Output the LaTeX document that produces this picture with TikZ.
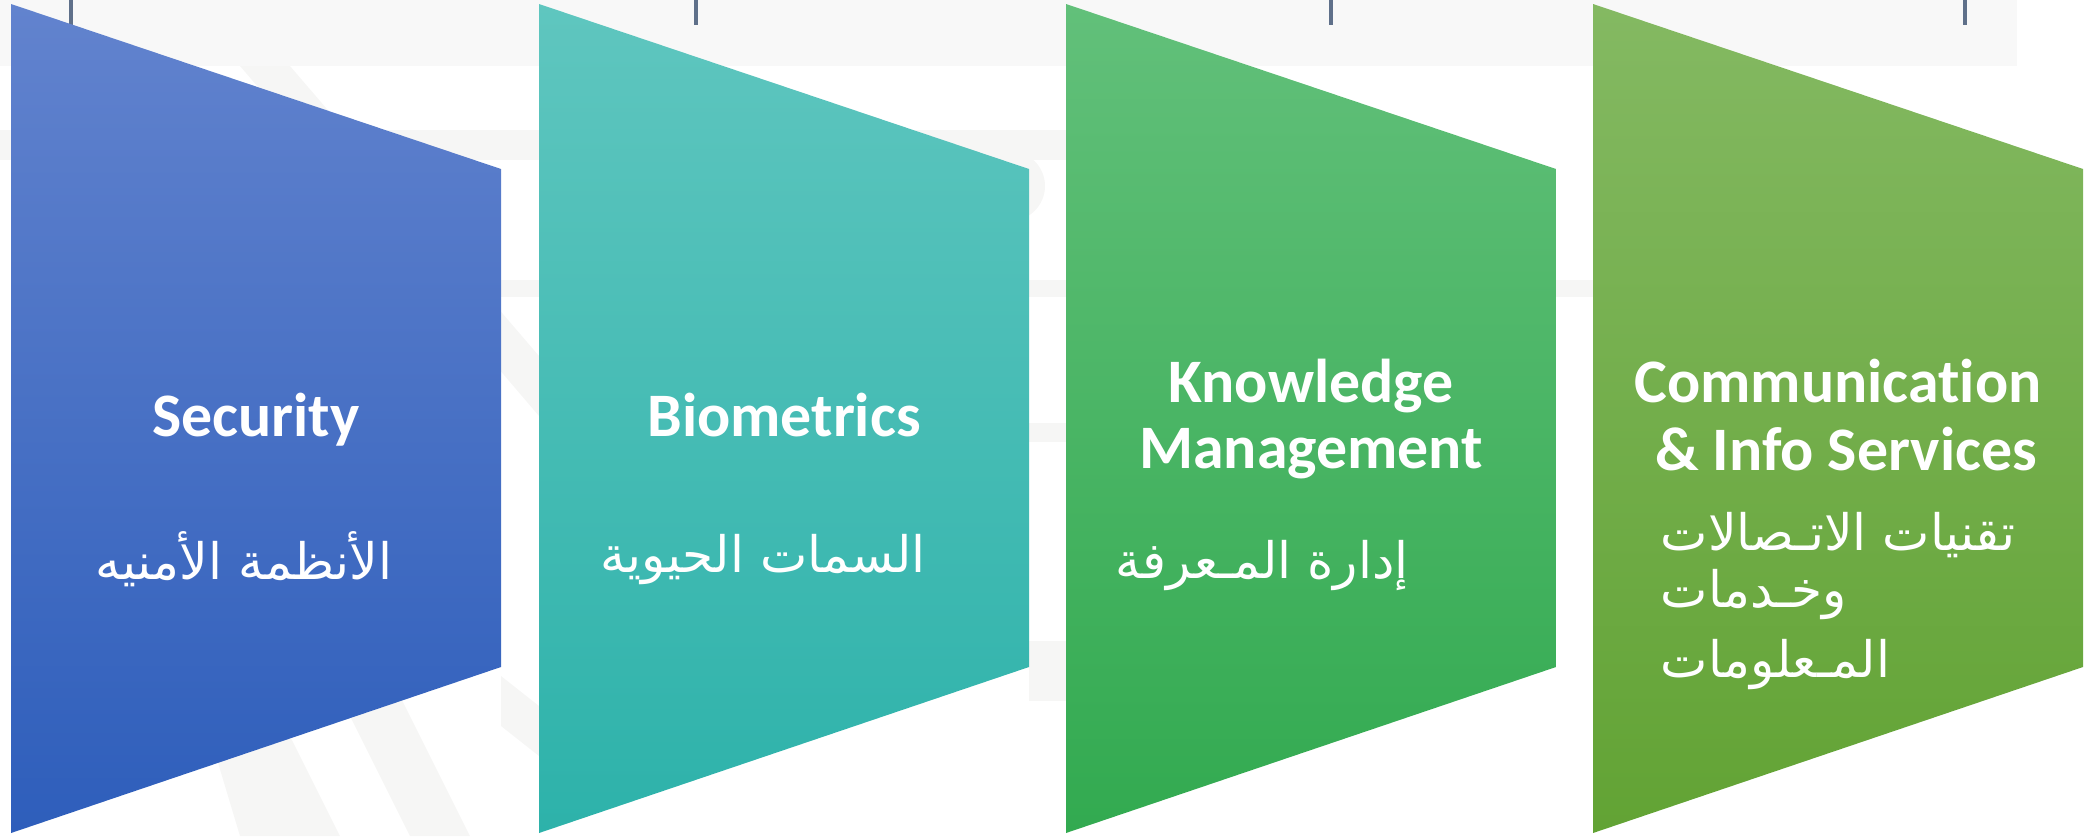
\documentclass[tikz,border=0pt]{standalone}
\usepackage{fontspec}
\setmainfont{Carlito}[Ligatures=NoCommon]
\newfontfamily\arfont[Script=Arabic]{DejaVu Sans}
\TeXXeTstate=1
\usepackage{tikz}
\usetikzlibrary{positioning}

\definecolor{secTop}{RGB}{98,131,206}
\definecolor{secBot}{RGB}{46,94,187}
\definecolor{bioTop}{RGB}{95,198,191}
\definecolor{bioBot}{RGB}{45,178,170}
\definecolor{kmTop}{RGB}{98,192,122}
\definecolor{kmBot}{RGB}{50,170,80}
\definecolor{cisTop}{RGB}{132,185,98}
\definecolor{cisBot}{RGB}{98,163,52}
\definecolor{bandGray}{RGB}{248,248,248}
\definecolor{stripeGray}{RGB}{246,246,245}
\definecolor{tickSlate}{RGB}{95,112,138}

\tikzset{
  entitle/.style={text=white, font=\bfseries\fontsize{17.6}{21}\selectfont, anchor=base, inner sep=0pt},
  artext/.style={text=white, font=\arfont\fontsize{14.3}{17}\selectfont, anchor=base, inner sep=0pt},
  stripe/.style={fill=stripeGray, draw=none}
}

\begin{document}
\begin{tikzpicture}
  \useasboundingbox (0, 0) rectangle (20.87, 8.36);
  % faint background
  \fill[bandGray] (0, 8.36) rectangle (20.17, 7.70);
  \fill[stripe] (0, 7.06) rectangle (10.66, 6.76);
  \fill[stripe] (5.0, 5.56) rectangle (15.93, 5.39);
  \fill[stripe] (10.29, 4.13) rectangle (10.66, 3.94);
  \fill[stripe] (10.29, 1.95) rectangle (10.66, 1.35);
  \fill[stripe] (2.40, 7.70) -- (2.90, 7.70) -- (5.39, 4.80) -- (5.39, 4.20) -- cycle;
  \fill[stripe] (5.01, 1.60) -- (5.01, 1.10) -- (5.39, 0.80) -- (5.39, 1.30) -- cycle;
  \fill[stripe] (2.10, 1.00) -- (2.90, 1.00) -- (3.40, 0) -- (2.40, 0) -- cycle;
  \fill[stripe] (3.40, 1.40) -- (4.00, 1.40) -- (4.70, 0) -- (4.10, 0) -- cycle;
  \fill[stripe] (10.10, 6.50) circle (0.35);
  \foreach \tx in {0.71, 6.96, 13.31, 19.65}
    \draw[tickSlate, line width=0.9pt] (\tx, 8.36) -- (\tx, 8.11);

  % the four panels
  \shade[top color=secTop, bottom color=secBot]
    (0.11, 8.32) -- (5.01, 6.67) -- (5.01, 1.69) -- (0.11, 0.03) -- cycle;
  \shade[top color=bioTop, bottom color=bioBot]
    (5.39, 8.32) -- (10.29, 6.67) -- (10.29, 1.69) -- (5.39, 0.03) -- cycle;
  \shade[top color=kmTop, bottom color=kmBot]
    (10.66, 8.32) -- (15.56, 6.67) -- (15.56, 1.69) -- (10.66, 0.03) -- cycle;
  \shade[top color=cisTop, bottom color=cisBot]
    (15.93, 8.32) -- (20.83, 6.67) -- (20.83, 1.69) -- (15.93, 0.03) -- cycle;

  % labels
  \node[entitle] (secEn) at (2.56, 4.00) {Security};
  \node[artext] (secAr) at (2.44, 2.57) {\beginR الأنظمة الأمنيه\endR};

  \node[entitle] (bioEn) at (7.84, 4.00) {Biometrics};
  \node[artext] (bioAr) at (7.63, 2.64) {\beginR السمات الحيوية\endR};

  \node[entitle] (kmEnA) at (13.11, 4.34) {Knowledge};
  \node[entitle] (kmEnB) at (13.11, 3.68) {Management};
  \node[artext] (kmAr) at (12.62, 2.58) {\beginR إدارة المـعرفة\endR};

  \node[entitle] (cisEnA) at (18.38, 4.34) {Communication};
  \node[entitle] (cisEnB) at (18.46, 3.66) {\& Info Services};
  \node[artext, anchor=base west] (cisArA) at (16.60, 2.86) {\beginR تقنيات الاتـصالات\endR};
  \node[artext, anchor=base west] (cisArB) at (16.60, 2.29) {\beginR وخـدمات\endR};
  \node[artext, anchor=base west] (cisArC) at (16.60, 1.59) {\beginR المـعلومات\endR};
\end{tikzpicture}
\end{document}
